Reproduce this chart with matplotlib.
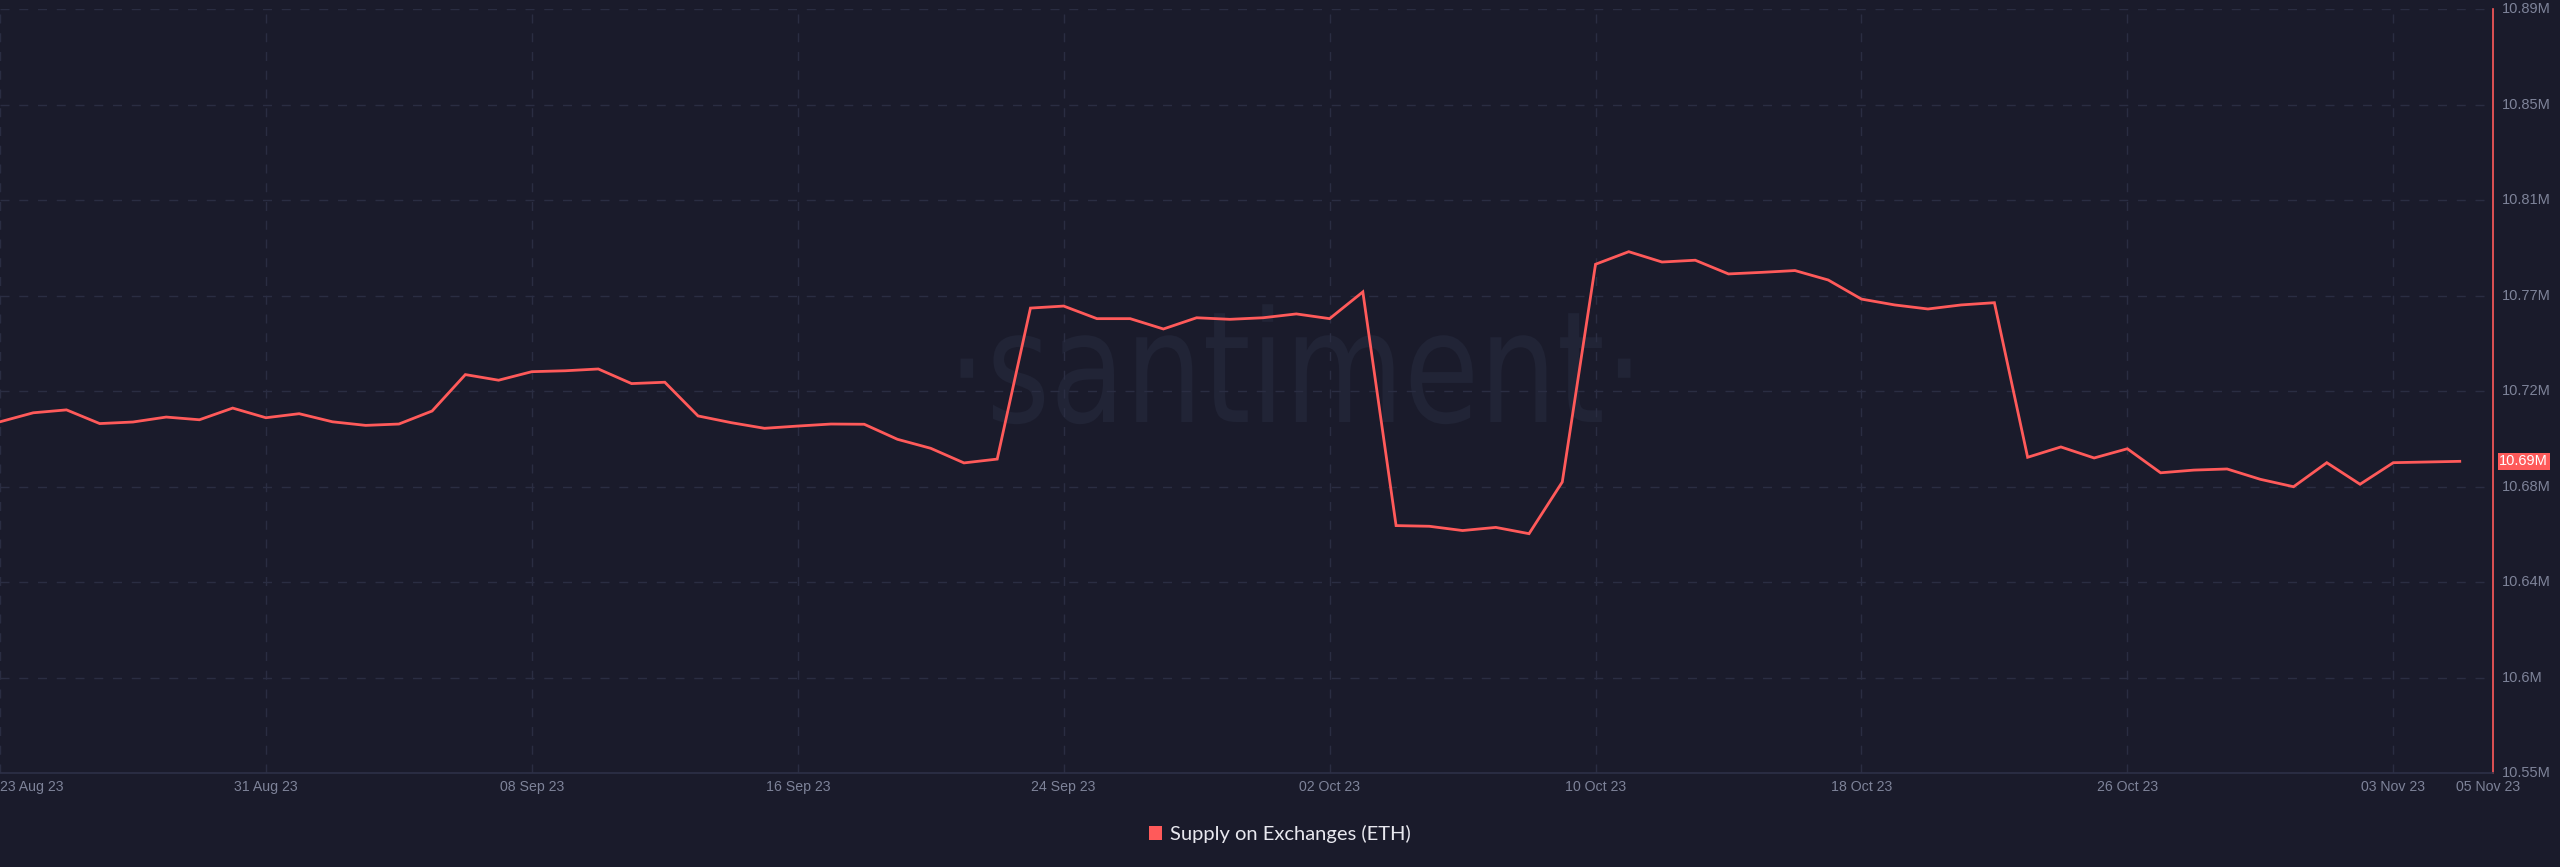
import matplotlib

matplotlib.use("Agg")

import matplotlib.dates as mdates
import matplotlib.pyplot as plt
import numpy as np
import pandas as pd
from matplotlib.font_manager import FontProperties
from matplotlib.patches import Patch, PathPatch
from matplotlib.textpath import TextPath
from matplotlib.transforms import Affine2D, IdentityTransform, ScaledTranslation


# daily supply on exchanges, millions of ETH, 23 Aug 23 .. 05 Nov 23
DATES = pd.date_range("2023-08-23", periods=75, freq="D")
SUPPLY_M = [
    10.7093, 10.7133, 10.7146, 10.7085, 10.7092, 10.7114, 10.7102, 10.7154,
    10.7111, 10.7129, 10.7093, 10.7077, 10.7083, 10.7141, 10.7303, 10.7278,
    10.7316, 10.7320, 10.7328, 10.7263, 10.7269, 10.7119, 10.7089, 10.7064,
    10.7074, 10.7083, 10.7082, 10.7015, 10.6975, 10.6910, 10.6927, 10.7599,
    10.7608, 10.7552, 10.7552, 10.7506, 10.7556, 10.7549, 10.7556, 10.7573,
    10.7552, 10.7671, 10.6631, 10.6628, 10.6609, 10.6623, 10.6595, 10.6825,
    10.7794, 10.7850, 10.7804, 10.7812, 10.7751, 10.7758, 10.7766, 10.7724,
    10.7639, 10.7613, 10.7595, 10.7613, 10.7623, 10.6935, 10.6981, 10.6932,
    10.6973, 10.6866, 10.6878, 10.6883, 10.6837, 10.6804, 10.6911, 10.6815,
    10.6911, 10.6914, 10.6917,
]
TICK_DATES = pd.date_range("2023-08-23", "2023-11-03", freq="8D")
Y_MIN, Y_MAX = 10.553, 10.893
LEGEND_LABEL = "Supply on Exchanges (ETH)"

BG = "#1a1b2b"
RED = "#ff5a5a"
GRID = "#2a2d42"
TICK_COLOR = "#7e8399"
WATERMARK = "#212436"
W, H = 2560, 867


def add_watermark(ax) -> None:
    # condensed "·santiment·" logo, drawn as a squeezed text path in pixel space
    prop = FontProperties(family="DejaVu Sans")
    size = 155
    tp = TextPath((0, 0), "·santiment·", size=size, prop=prop)
    ext = tp.get_extents()
    target_w = 670
    sx = target_w / ext.width
    cx = 1295.5
    base_y = H - 422
    tr = Affine2D().translate(-ext.x0 - ext.width / 2, 0).scale(sx, 1).translate(cx, base_y)
    patch = PathPatch(tr.transform_path(tp), facecolor=WATERMARK, edgecolor="none",
                      transform=IdentityTransform(), zorder=0.1, clip_on=False)
    ax.add_artist(patch)


def draw() -> None:
    plt.rcParams["font.family"] = ["Liberation Sans", "DejaVu Sans"]

    fig = plt.figure(figsize=(W / 100, H / 100), dpi=100)
    fig.patch.set_facecolor(BG)
    ax = fig.add_axes([0, (H - 773) / H, 2493 / W, (773 - 9) / H])
    ax.set_facecolor(BG)

    ax.plot(DATES, SUPPLY_M, color=RED, linewidth=2.0, solid_joinstyle="miter", zorder=3)

    ax.set_xlim(DATES[0], DATES[-1] + pd.Timedelta(days=1))
    ax.set_ylim(Y_MIN, Y_MAX)

    yticks = np.linspace(Y_MIN, Y_MAX, 9)
    ax.set_yticks(yticks)
    ax.set_yticklabels([f"{v:.2f}".rstrip("0").rstrip(".") + "M" for v in yticks])
    ax.yaxis.tick_right()
    ax.set_xticks(TICK_DATES)
    ax.xaxis.set_major_formatter(mdates.DateFormatter("%d %b %y"))

    ax.tick_params(axis="y", length=0, pad=6.5, labelsize=10.5, labelcolor=TICK_COLOR)
    ax.tick_params(axis="x", length=0, pad=5, labelsize=10.2, labelcolor=TICK_COLOR)
    for lab in ax.get_yticklabels():
        lab.set_verticalalignment("center")
    ax.get_xticklabels()[0].set_horizontalalignment("left")

    ax.set_axisbelow(True)
    ax.grid(True, color=GRID, linewidth=1.0, linestyle=(0, (6.5, 7)))

    for side in ("top", "left"):
        ax.spines[side].set_visible(False)
    ax.spines["bottom"].set_color("#2d3047")
    ax.spines["bottom"].set_linewidth(1.2)
    ax.spines["right"].set_color(RED)
    ax.spines["right"].set_linewidth(1.2)

    # last value label and the extra date at the end of the series
    ax.annotate(
        f"{SUPPLY_M[-1]:.2f}M",
        xy=(1, SUPPLY_M[-1]),
        xycoords=("axes fraction", "data"),
        xytext=(4.5, 0),
        textcoords="offset points",
        ha="left",
        va="center",
        fontsize=10.5,
        color="white",
        bbox=dict(boxstyle="square,pad=0.12", facecolor=RED, edgecolor="none"),
        annotation_clip=False,
    )
    ax.text(
        DATES[-1] - pd.Timedelta(hours=3),
        Y_MIN,
        DATES[-1].strftime("%d %b %y"),
        ha="left",
        va="top",
        fontsize=10.2,
        color=TICK_COLOR,
        transform=ax.transData + ScaledTranslation(0, -5 / 72, fig.dpi_scale_trans),
        clip_on=False,
    )

    add_watermark(ax)

    fig.legend(
        handles=[Patch(facecolor=RED, edgecolor="none", label=LEGEND_LABEL)],
        loc="center",
        bbox_to_anchor=(1280 / W, 1 - 834 / H),
        frameon=False,
        handlelength=0.65,
        handleheight=0.65,
        handletextpad=0.4,
        labelcolor="#e8e8ef",
        prop={"family": ["Lato", "DejaVu Sans"], "size": 14.5},
    )

    fig.savefig("out.png", dpi=100, facecolor=BG)


if __name__ == "__main__":
    draw()
